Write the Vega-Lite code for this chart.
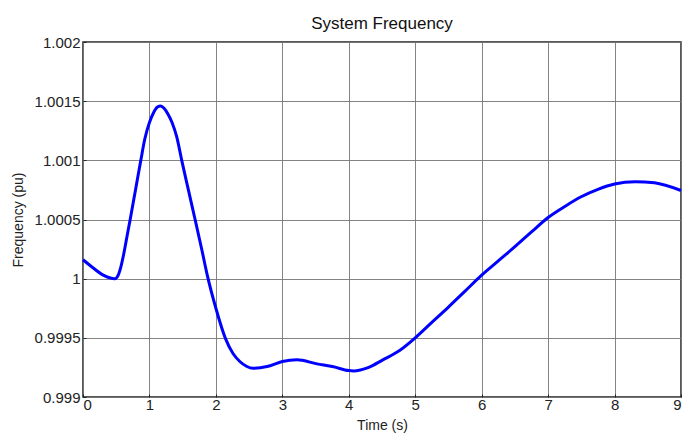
{
  "$schema": "https://vega.github.io/schema/vega-lite/v6.json",
  "width": 598,
  "height": 355,
  "autosize": "none",
  "padding": {"left": 83, "top": 42, "right": 5, "bottom": 38},
  "background": "white",
  "title": {"text": "System Frequency", "fontSize": 17, "font": "Liberation Sans", "fontWeight": "normal", "color": "#111", "offset": 2},
  "config": {
    "view": {"stroke": "#222", "strokeWidth": 1.5},
    "axis": {"labelFont": "Liberation Sans", "titleFont": "Liberation Sans", "labelColor": "#222", "titleColor": "#222", "titleFontWeight": "normal", "gridColor": "#777", "gridWidth": 1, "gridOpacity": 0.9, "domain": false, "tickColor": "#222", "tickSize": -3, "tickWidth": 1}
  },
  "data": {"values": [
    {"t": 0, "f": 1.00016},
    {"t": 0.155, "f": 1.00009},
    {"t": 0.306, "f": 1.00003},
    {"t": 0.48, "f": 1.0},
    {"t": 0.53, "f": 1.00003},
    {"t": 0.57, "f": 1.0001},
    {"t": 0.61, "f": 1.0002},
    {"t": 0.66, "f": 1.00035},
    {"t": 0.71, "f": 1.0005},
    {"t": 0.79, "f": 1.00075},
    {"t": 0.87, "f": 1.001},
    {"t": 0.93, "f": 1.00118},
    {"t": 1.0, "f": 1.00132},
    {"t": 1.06, "f": 1.0014},
    {"t": 1.12, "f": 1.00145},
    {"t": 1.17, "f": 1.00146},
    {"t": 1.22, "f": 1.00144},
    {"t": 1.28, "f": 1.00139},
    {"t": 1.34, "f": 1.00132},
    {"t": 1.41, "f": 1.0012},
    {"t": 1.486, "f": 1.001},
    {"t": 1.586, "f": 1.00075},
    {"t": 1.687, "f": 1.0005},
    {"t": 1.79, "f": 1.00024},
    {"t": 1.87, "f": 1.00003},
    {"t": 2.0, "f": 0.99975},
    {"t": 2.14, "f": 0.9995},
    {"t": 2.26, "f": 0.999365},
    {"t": 2.36, "f": 0.9993},
    {"t": 2.46, "f": 0.99926},
    {"t": 2.56, "f": 0.999243},
    {"t": 2.77, "f": 0.999257},
    {"t": 3.0, "f": 0.9993},
    {"t": 3.22, "f": 0.999314},
    {"t": 3.52, "f": 0.99928},
    {"t": 3.77, "f": 0.999255},
    {"t": 4.0, "f": 0.999223},
    {"t": 4.07, "f": 0.99922},
    {"t": 4.3, "f": 0.99925},
    {"t": 4.5, "f": 0.99931},
    {"t": 4.77, "f": 0.999395},
    {"t": 5.0, "f": 0.9995},
    {"t": 5.23, "f": 0.99962},
    {"t": 5.5, "f": 0.99976},
    {"t": 5.75, "f": 0.999895},
    {"t": 6.0, "f": 1.00003},
    {"t": 6.25, "f": 1.00015},
    {"t": 6.5, "f": 1.00027},
    {"t": 6.75, "f": 1.000395},
    {"t": 7.0, "f": 1.000517},
    {"t": 7.25, "f": 1.00061},
    {"t": 7.49, "f": 1.00069},
    {"t": 7.75, "f": 1.000755},
    {"t": 8.0, "f": 1.0008},
    {"t": 8.31, "f": 1.00082},
    {"t": 8.6, "f": 1.00081},
    {"t": 9.0, "f": 1.000745}
  ]},
  "mark": {"type": "line", "color": "#0000FF", "strokeWidth": 3, "interpolate": "monotone"},
  "encoding": {
    "x": {"field": "t", "type": "quantitative", "scale": {"domain": [0, 9], "nice": false},
      "axis": {"title": "Time (s)", "values": [0,1,2,3,4,5,6,7,8,9], "labelFontSize": 15, "titleFontSize": 14, "labelPadding": 3, "titlePadding": 6}},
    "y": {"field": "f", "type": "quantitative", "scale": {"domain": [0.999, 1.002], "nice": false, "zero": false},
      "axis": {"title": "Frequency (pu)", "values": [0.999, 0.9995, 1.0, 1.0005, 1.001, 1.0015, 1.002], "labelExpr": "datum.value == 1 ? '1' : format(datum.value, '.4~f')", "labelFontSize": 15, "titleFontSize": 14, "labelPadding": 6, "titlePadding": 9}}
  }
}
